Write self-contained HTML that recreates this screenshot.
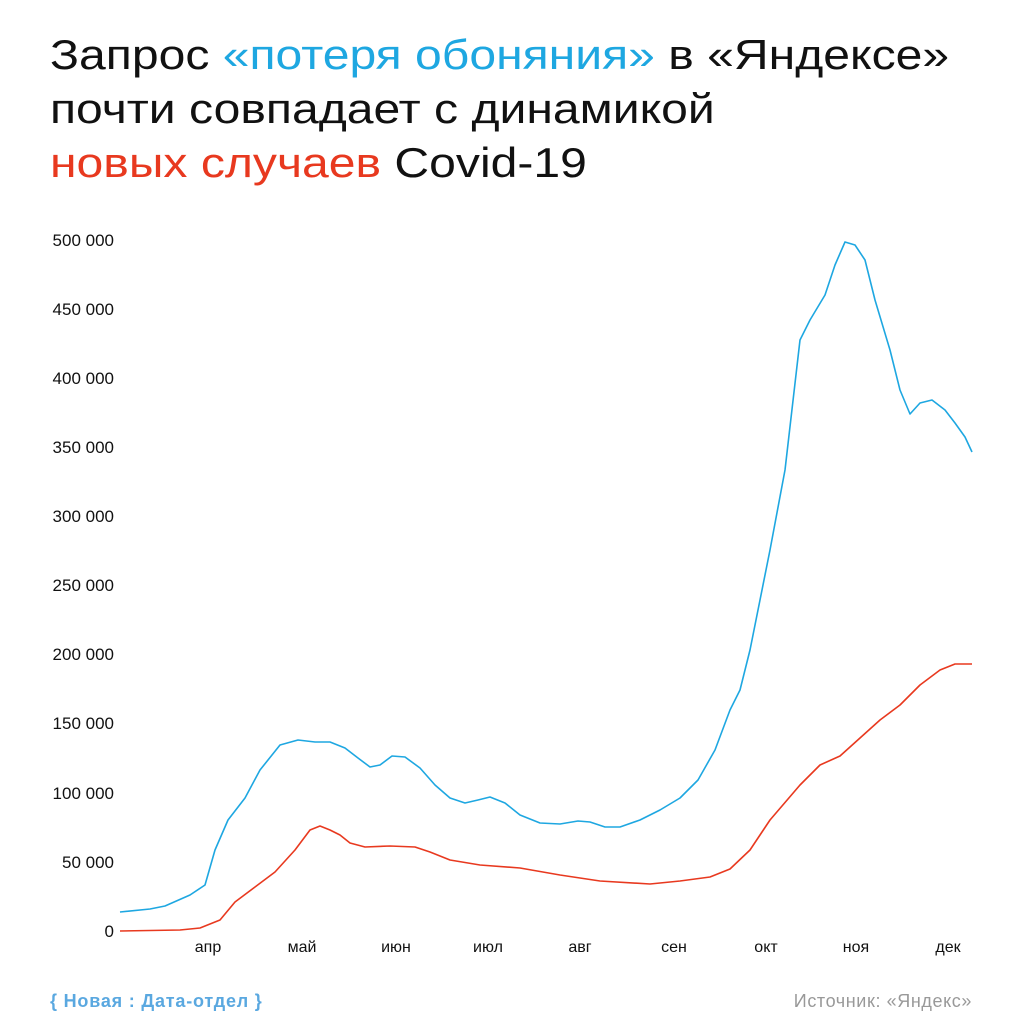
<!DOCTYPE html>
<html><head><meta charset="utf-8"><style>
body{margin:0;background:#fff;width:1024px;height:1024px;overflow:hidden;font-family:"Liberation Sans","DejaVu Sans",sans-serif}
.t{position:absolute;left:50px;top:28px;font-size:42px;line-height:54px;color:#111;transform-origin:0 0;transform:scaleX(1.145);white-space:nowrap}
</style></head><body>
<div class="t">Запрос <span style="color:#1ea7e1">«потеря обоняния»</span> в «Яндексе»<br>почти совпадает с динамикой<br><span style="color:#e8391f">новых случаев</span> Covid-19</div>
<svg width="1024" height="1024" style="position:absolute;left:0;top:0" font-family="Liberation Sans, sans-serif">
<g font-size="17" fill="#111" text-anchor="end">
<text x="114" y="246">500 000</text><text x="114" y="315">450 000</text><text x="114" y="384">400 000</text><text x="114" y="453">350 000</text><text x="114" y="522">300 000</text><text x="114" y="591">250 000</text><text x="114" y="660">200 000</text><text x="114" y="729">150 000</text><text x="114" y="799">100 000</text><text x="114" y="868">50 000</text><text x="114" y="937">0</text>
</g>
<g font-size="16" fill="#111" text-anchor="middle">
<text x="208" y="952">апр</text><text x="302" y="952">май</text><text x="396" y="952">июн</text><text x="488" y="952">июл</text><text x="580" y="952">авг</text><text x="674" y="952">сен</text><text x="766" y="952">окт</text><text x="856" y="952">ноя</text><text x="948" y="952">дек</text>
</g>
<polyline fill="none" stroke="#1ea7e1" stroke-width="1.6" stroke-linejoin="round" points="120,912 150,909 165,906 190,895 205,885 215,850 228,820 245,798 260,770 280,745 298,740 315,742 330,742 345,748 358,758 370,767 380,765 392,756 405,757 420,768 435,785 450,798 465,803 478,800 490,797 505,803 520,815 540,823 560,824 578,821 590,822 605,827 620,827 640,820 660,810 680,798 698,780 715,750 730,710 740,690 750,650 760,600 770,550 785,470 800,340 810,320 825,295 835,265 845,242 855,245 865,260 875,300 890,350 900,390 910,414 920,403 932,400 945,410 955,423 965,437 972,452"/>
<polyline fill="none" stroke="#e8391f" stroke-width="1.6" stroke-linejoin="round" points="120,931 180,930 200,928 220,920 235,902 255,887 275,872 295,850 310,830 320,826 330,830 340,835 350,843 365,847 390,846 415,847 430,852 450,860 480,865 520,868 560,875 600,881 650,884 680,881 710,877 730,869 750,850 770,820 800,785 820,765 840,756 860,738 880,720 900,705 920,685 940,670 955,664 972,664"/>
<text x="50" y="1007" font-size="18" font-weight="bold" fill="#5aa8e0" letter-spacing="0.8">{ Новая : Дата-отдел }</text>
<text x="972" y="1007" font-size="18" fill="#999" text-anchor="end" letter-spacing="0.6">Источник: «Яндекс»</text>
</svg>
</body></html>
